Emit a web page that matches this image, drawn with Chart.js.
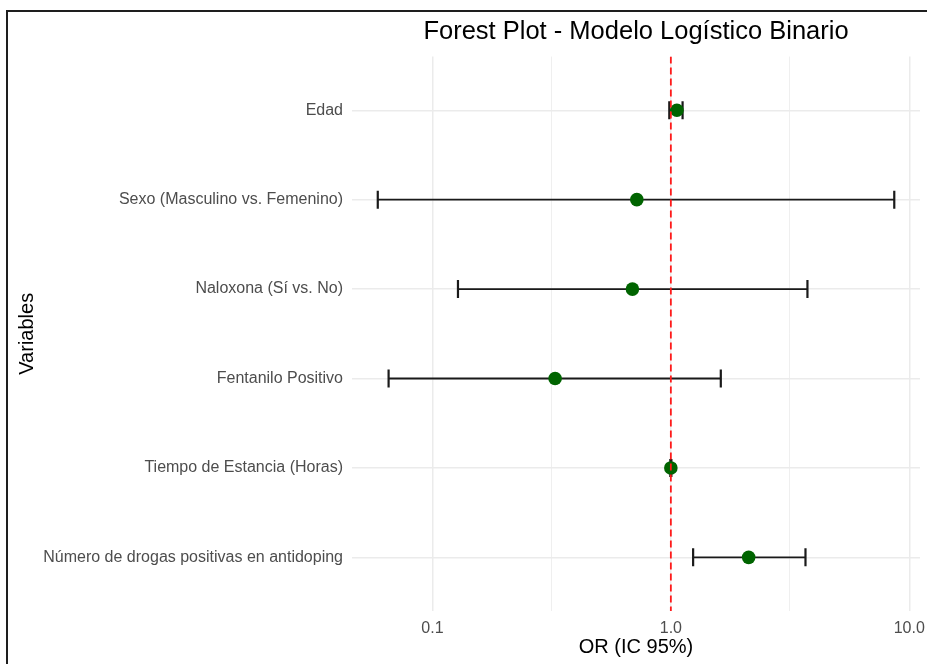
<!DOCTYPE html>
<html>
<head>
<meta charset="utf-8">
<script src="https://cdn.jsdelivr.net/npm/chart.js@4.4.1/dist/chart.umd.min.js"></script>
<style>
  html, body { margin: 0; padding: 0; background: #ffffff; overflow: hidden; }
  #wrap { position: relative; width: 927px; height: 664px; }
  #frame { position: absolute; left: 6px; top: 10px; width: 1000px; height: 1000px;
           border-left: 2px solid #1e1e1e; border-top: 2px solid #1e1e1e; }
  canvas { position: absolute; left: 0; top: 0; }
</style>
</head>
<body>
<div id="wrap">
  <div id="frame"></div>
  <canvas id="c" width="927" height="664"></canvas>
</div>
<script>
// ---- data ----
const categories = [
  "Edad",
  "Sexo (Masculino vs. Femenino)",
  "Naloxona (Sí vs. No)",
  "Fentanilo Positivo",
  "Tiempo de Estancia (Horas)",
  "Número de drogas positivas en antidoping"
];
const oddsRatio = [1.06, 0.72, 0.69, 0.327, 1.00, 2.12];
const ciLower   = [0.985, 0.059, 0.128, 0.0655, 0.995, 1.24];
const ciUpper   = [1.12, 8.65, 3.74, 1.62, 1.005, 3.67];
const refValue = 1;
const xTicks = [0.1, 1, 10];
const xTickLabels = ["0.1", "1.0", "10.0"];
const xMinorTicks = [0.316, 3.16];
const titleText = "Forest Plot - Modelo Logístico Binario";
const xTitle = "OR (IC 95%)";
const yTitle = "Variables";

// ---- build datasets ----
const rowPos = categories.map((_, i) => i + 1);
const datasets = [];

datasets.push({
  type: 'line',
  label: 'ref',
  data: [{x: refValue, y: 0.4}, {x: refValue, y: 6.6}],
  borderColor: '#ff1a1a',
  borderWidth: 1.8,
  borderDash: [7, 4],
  pointRadius: 0,
  fill: false,
  order: 0
});

datasets.push({
  type: 'scatter',
  label: 'OR',
  data: oddsRatio.map((v, i) => ({x: v, y: rowPos[i]})),
  backgroundColor: '#006400',
  borderColor: '#006400',
  pointRadius: 6.8,
  pointBorderWidth: 0,
  order: 1
});

categories.forEach((c, i) => {
  datasets.push({
    type: 'line',
    label: 'ci' + i,
    data: [{x: ciLower[i], y: rowPos[i]}, {x: ciUpper[i], y: rowPos[i]}],
    borderColor: '#1a1a1a',
    borderWidth: 1.8,
    pointStyle: 'line',
    pointRotation: 90,
    pointRadius: 9,
    pointBorderWidth: 2.2,
    pointBorderColor: '#1a1a1a',
    fill: false,
    order: 2
  });
});

const allXTicks = xTicks.concat(xMinorTicks).sort((a, b) => a - b);

new Chart(document.getElementById('c'), {
  type: 'scatter',
  data: { datasets },
  options: {
    responsive: false,
    animation: false,
    events: [],
    layout: { autoPadding: false, padding: { left: 0, right: 7, top: 0, bottom: 0 } },
    plugins: {
      legend: { display: false },
      tooltip: { enabled: false },
      title: {
        display: true,
        text: titleText,
        fullSize: false,
        color: '#000000',
        font: { family: 'Liberation Sans, Arial, sans-serif', size: 25.5, weight: 'normal' },
        padding: { top: 17, bottom: 9 }
      }
    },
    scales: {
      x: {
        type: 'logarithmic',
        min: 0.046,
        max: 11.09,
        afterBuildTicks: (s) => { s.ticks = allXTicks.map(v => ({value: v})); },
        afterFit: (s) => { s.height = 53; s.paddingRight = 0; s.paddingLeft = 0; },
        ticks: {
          autoSkip: false,
          maxRotation: 0,
          padding: 8,
          color: '#4d4d4d',
          font: { family: 'Liberation Sans, Arial, sans-serif', size: 16 },
          callback: (v) => { const k = xTicks.indexOf(v); return k >= 0 ? xTickLabels[k] : ''; }
        },
        grid: {
          drawTicks: false,
          color: '#ebebeb',
          lineWidth: (ctx) => (ctx.tick && xTicks.indexOf(ctx.tick.value) >= 0) ? 1.5 : 0.8
        },
        border: { display: false },
        title: {
          display: true,
          text: xTitle,
          color: '#000000',
          font: { family: 'Liberation Sans, Arial, sans-serif', size: 20 },
          padding: { top: 0, bottom: 5 }
        }
      },
      y: {
        type: 'linear',
        reverse: true,
        min: 0.4,
        max: 6.6,
        afterBuildTicks: (s) => { s.ticks = rowPos.map(v => ({value: v})); },
        afterFit: (s) => { s.width = 352; },
        ticks: {
          autoSkip: false,
          padding: 9,
          color: '#4d4d4d',
          font: { family: 'Liberation Sans, Arial, sans-serif', size: 16 },
          callback: (v) => categories[v - 1] || ''
        },
        grid: { drawTicks: false, color: '#ebebeb', lineWidth: 1.5 },
        border: { display: false },
        title: {
          display: true,
          text: yTitle,
          color: '#000000',
          font: { family: 'Liberation Sans, Arial, sans-serif', size: 20 },
          padding: { top: 15, bottom: 0 }
        }
      }
    }
  }
});
</script>
</body>
</html>
